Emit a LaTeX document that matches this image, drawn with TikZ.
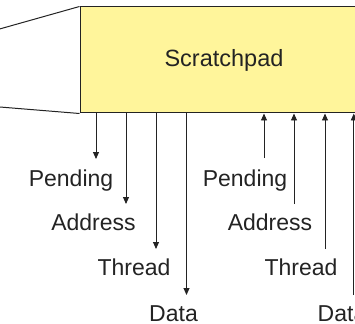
\documentclass[tikz,border=0pt]{standalone}
\usepackage{fontspec}
\setmainfont{Liberation Sans}
\usetikzlibrary{arrows.meta}
\definecolor{padfill}{RGB}{255,245,155}
\definecolor{ink}{RGB}{35,35,35}
\tikzset{
  padbox/.style={draw=ink, line width=1pt, fill=padfill, rectangle, inner sep=0pt,
    minimum width=288pt, minimum height=106pt,
    font=\fontsize{23.5}{27}\selectfont, text=ink},
  sig/.style={draw=ink, line width=0.9pt, -{Triangle[length=7pt,width=6pt]}},
  lbl/.style={anchor=base, inner sep=0pt, font=\fontsize{23}{26}\selectfont, text=ink},
  taper/.style={draw=ink, line width=1pt}
}
\begin{document}
\begin{tikzpicture}[x=1pt,y=-1pt]
  \useasboundingbox (0,0) rectangle (355,323);
  \clip (0,0) rectangle (355,323);
  % scratchpad block
  \node[padbox] (pad) at (224,60) {Scratchpad};
  % tapered lead-in on the left
  \coordinate (tl) at (-10,31.7);
  \coordinate (bl) at (-10,106.2);
  \draw[taper] (tl) -- (pad.north west);
  \draw[taper] (bl) -- (pad.south west);
  % outgoing signals
  \node[lbl] (oP) at (71,186) {Pending};
  \node[lbl] (oA) at (93.5,230) {Address};
  \node[lbl] (oT) at (134,275) {Thread};
  \node[lbl] (oD) at (173.5,321) {Data};
  \coordinate (oPe) at (96,159);
  \coordinate (oAe) at (126,204);
  \coordinate (oTe) at (156,249);
  \coordinate (oDe) at (186.5,295);
  \draw[sig] (pad.south -| oPe) -- (oPe);
  \draw[sig] (pad.south -| oAe) -- (oAe);
  \draw[sig] (pad.south -| oTe) -- (oTe);
  \draw[sig] (pad.south -| oDe) -- (oDe);
  % incoming signals
  \node[lbl] (iP) at (245,186) {Pending};
  \node[lbl] (iA) at (270,230) {Address};
  \node[lbl] (iT) at (301,275) {Thread};
  \node[lbl] (iD) at (342,321) {Data};
  \coordinate (iPs) at (264,158);
  \coordinate (iAs) at (294,204);
  \coordinate (iTs) at (325,249);
  \coordinate (iDs) at (353.8,295);
  \draw[sig] (iPs) -- (pad.south -| iPs);
  \draw[sig] (iAs) -- (pad.south -| iAs);
  \draw[sig] (iTs) -- (pad.south -| iTs);
  \draw[sig] (iDs) -- (pad.south -| iDs);
\end{tikzpicture}
\end{document}
